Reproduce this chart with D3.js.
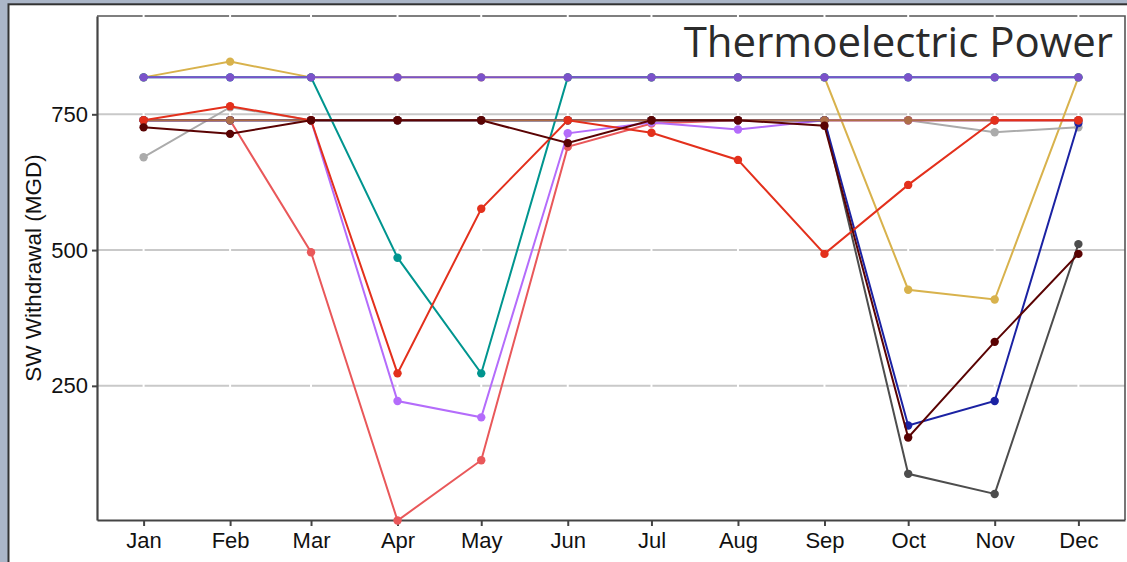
<!DOCTYPE html>
<html>
<head>
<meta charset="utf-8">
<script src="https://cdn.jsdelivr.net/npm/d3@7"></script>
<style>
  body { margin: 0; background: #fff; }
  svg { display: block; }
</style>
</head>
<body>
<svg width="1127" height="562"></svg>
<script>
// month labels and first-of-month dates
const months = ["Jan", "Feb", "Mar", "Apr", "May", "Jun", "Jul", "Aug", "Sep", "Oct", "Nov", "Dec"];
const yTicks = [250, 500, 750];

// SW withdrawal (MGD) per month, one array per series
const purple   = [818, 818, 818, 818, 818, 818, 818, 818, 818, 818, 818, 818];
const gold     = [818, 847, 818, 818, 818, 818, 818, 818, 818, 427, 409, 818];
const teal     = [818, 818, 818, 486, 273, 818, 818, 818, 818, 818, 818, 818];
const gray     = [671, 763, 739, 739, 739, 739, 739, 739, 739, 739, 717, 726];
const salmon   = [739, 739, 496, 2, 113, 690, 733, 739, 739, 739, 739, 739];
const lavender = [739, 739, 739, 222, 192, 715, 735, 722, 739, 739, 739, 739];
const brown    = [739, 739, 739, 739, 739, 739, 739, 739, 739, 739, 739, 739];
const red      = [739, 765, 739, 273, 576, 739, 716, 666, 493, 620, 739, 739];
const darkgray = [739, 739, 739, 739, 739, 739, 739, 739, 739, 88, 51, 511];
const navy     = [739, 739, 739, 739, 739, 739, 739, 739, 739, 177, 222, 734];
const maroon   = [726, 714, 739, 739, 739, 697, 739, 739, 729, 155, 331, 493];

// drawing order: later entries sit on top
const seriesList = [
  {values: gold, color: "#d8b24c"},
  {values: teal, color: "#00958f"},
  {values: gray, color: "#ababab"},
  {values: salmon, color: "#e9585a"},
  {values: lavender, color: "#b46cfb"},
  {values: darkgray, color: "#4d4d4d"},
  {values: navy, color: "#1b22a3"},
  {values: brown, color: "#ae6e48"},
  {values: red, color: "#e3301c"},
  {values: maroon, color: "#5a0303"},
  {values: purple, color: "#7b52ca"}
];

const svg = d3.select("svg");
const W = 1127, H = 562;

// outer frame
svg.append("rect").attr("width", W).attr("height", H).attr("fill", "#abb6c8");
svg.append("rect").attr("x", 7.5).attr("y", 3.3).attr("width", W).attr("height", H).attr("fill", "#333");
svg.append("rect").attr("x", 9.5).attr("y", 5.3).attr("width", W).attr("height", H).attr("fill", "#fff");

const pL = 97, pR = 1125, pT = 16, pB = 520;
const dates = months.map((m, i) => new Date(2020, i, 1));
const pad = 16.7 * 864e5;

const x = d3.scaleTime()
  .domain([new Date(+dates[0] - pad), new Date(+dates[11] + pad)])
  .range([pL, pR]);
const y = d3.scaleLinear().domain([3, 931]).range([pB, pT]);

// horizontal grid
svg.append("g").selectAll("line").data(yTicks).join("line")
  .attr("x1", pL).attr("x2", pR)
  .attr("y1", d => y(d)).attr("y2", d => y(d))
  .attr("stroke", "#c9c9c9").attr("stroke-width", 2);

// panel border (top/right)
svg.append("path")
  .attr("d", `M${pL},${pT}H${pR}V${pB}`)
  .attr("fill", "none").attr("stroke", "#555").attr("stroke-width", 1.6);

// vertical white grid
svg.append("g").selectAll("line").data(dates).join("line")
  .attr("x1", d => x(d)).attr("x2", d => x(d))
  .attr("y1", pT - 2).attr("y2", pB - 1)
  .attr("stroke", "#fff").attr("stroke-width", 2);

// axes
const xAxis = svg.append("g")
  .attr("transform", `translate(0,${pB})`)
  .call(d3.axisBottom(x).tickValues(dates).tickFormat((d, i) => months[i]).tickSize(6).tickSizeOuter(0));
const yAxis = svg.append("g")
  .attr("transform", `translate(${pL},0)`)
  .call(d3.axisLeft(y).tickValues(yTicks).tickSize(5).tickSizeOuter(0));

[xAxis, yAxis].forEach(a => {
  a.select(".domain").attr("stroke", "#444").attr("stroke-width", 2.2);
  a.selectAll(".tick line").attr("stroke", "#444").attr("stroke-width", 2);
  a.selectAll("text").attr("fill", "#111")
    .style("font-family", "Liberation Sans, Arial, sans-serif").style("font-size", "22px");
});
xAxis.selectAll("text").attr("dy", "0.71em").attr("y", 12);
yAxis.selectAll("text").attr("x", -9);

// y label
svg.append("text")
  .attr("transform", `translate(41,${(pT + pB) / 2}) rotate(-90)`)
  .attr("text-anchor", "middle")
  .style("font-family", "Liberation Sans, Arial, sans-serif")
  .style("font-size", "22.5px")
  .attr("fill", "#111")
  .text("SW Withdrawal (MGD)");

// lines and points
const line = d3.line().x((d, i) => x(dates[i])).y(d => y(d));
seriesList.forEach(s => {
  const g = svg.append("g");
  g.append("path").attr("d", line(s.values))
    .attr("fill", "none").attr("stroke", s.color).attr("stroke-width", 2);
  g.selectAll("circle").data(s.values).join("circle")
    .attr("cx", (d, i) => x(dates[i])).attr("cy", d => y(d))
    .attr("r", 4.2).attr("fill", s.color);
});

// title
svg.append("text")
  .attr("x", 1113).attr("y", 57)
  .attr("text-anchor", "end")
  .style("font-family", "Open Sans, sans-serif")
  .style("font-size", "42px")
  .attr("fill", "#2b2b2b")
  .text("Thermoelectric Power");
</script>
</body>
</html>
